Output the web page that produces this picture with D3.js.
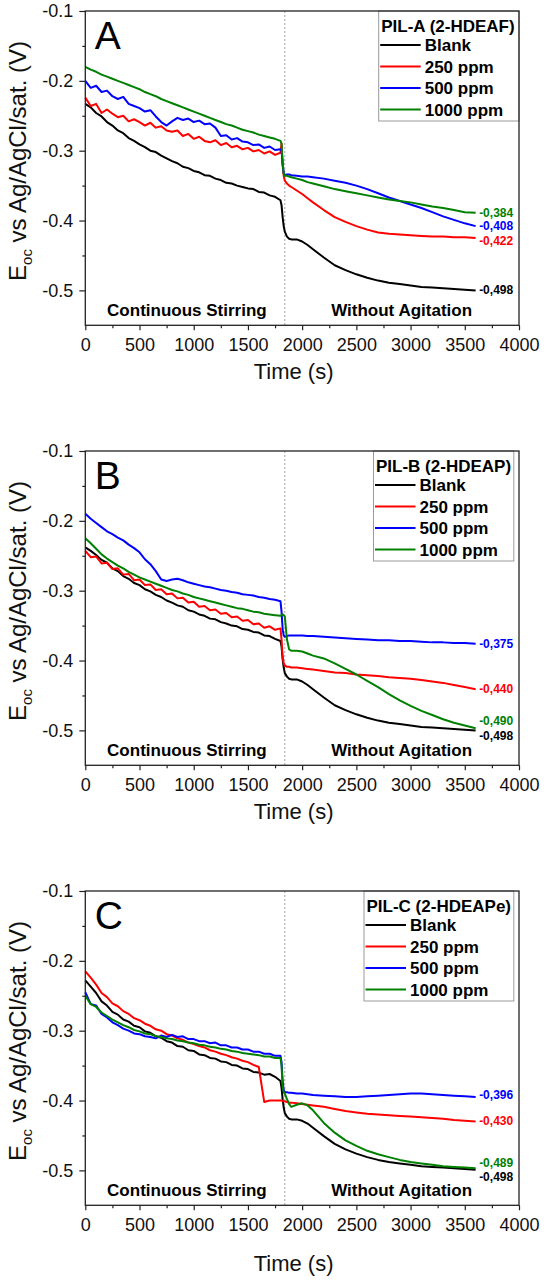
<!DOCTYPE html>
<html>
<head>
<meta charset="utf-8">
<script src="https://cdn.jsdelivr.net/npm/d3@7"></script>
<style>
  body { margin: 0; background: #fff; }
  svg { display: block; font-family: Arial, "Liberation Sans", sans-serif; }
</style>
</head>
<body>
<svg width="544" height="1280"></svg>
<script>
// sampling times (s): stirring phase every 50 s, then the jump, then the quiet phase
const time = [
  0, 50, 100, 150, 200, 250, 300, 350, 400, 450, 500, 550, 600, 650, 700, 750, 800, 850, 900, 950,
  1000, 1050, 1100, 1150, 1200, 1250, 1300, 1350, 1400, 1450, 1500, 1550, 1600, 1650, 1700, 1750, 1800,
  1810, 1820, 1830, 1840, 1860, 1880, 1900, 1950, 2000, 2050, 2100,
  2200, 2300, 2400, 2500, 2600, 2700, 2800, 2900, 3000, 3100, 3200, 3300, 3400, 3500, 3600
];

// PIL-A (2-HDEAF)
const blankA = [
  -0.233, -0.238, -0.246, -0.251, -0.259, -0.264, -0.271, -0.275, -0.282, -0.286, -0.291, -0.295, -0.300, -0.302, -0.307, -0.311, -0.315, -0.318, -0.323, -0.325,
  -0.329, -0.331, -0.335, -0.336, -0.340, -0.342, -0.346, -0.347, -0.350, -0.352, -0.354, -0.355, -0.359, -0.360, -0.364, -0.366, -0.371,
  -0.378, -0.395, -0.408, -0.416, -0.423, -0.426, -0.427, -0.427, -0.430, -0.435, -0.441,
  -0.453, -0.464, -0.471, -0.477, -0.482, -0.486, -0.489, -0.491, -0.493, -0.495, -0.496, -0.497, -0.498, -0.499, -0.500
];
const ppm250A = [
  -0.224, -0.236, -0.233, -0.246, -0.241, -0.247, -0.252, -0.250, -0.258, -0.255, -0.259, -0.264, -0.260, -0.267, -0.265, -0.271, -0.273, -0.271, -0.279, -0.276,
  -0.283, -0.280, -0.286, -0.288, -0.285, -0.292, -0.289, -0.295, -0.293, -0.298, -0.296, -0.301, -0.299, -0.304, -0.301, -0.306, -0.303,
  -0.290, -0.320, -0.336, -0.343, -0.347, -0.350, -0.352, -0.357, -0.362, -0.368, -0.374,
  -0.385, -0.395, -0.402, -0.408, -0.413, -0.417, -0.419, -0.420, -0.421, -0.422, -0.423, -0.423, -0.424, -0.424, -0.425
];
const ppm500A = [
  -0.200, -0.210, -0.207, -0.216, -0.214, -0.222, -0.226, -0.223, -0.233, -0.236, -0.239, -0.244, -0.242, -0.251, -0.259, -0.264, -0.258, -0.253, -0.256, -0.254,
  -0.259, -0.257, -0.262, -0.261, -0.267, -0.279, -0.278, -0.284, -0.282, -0.287, -0.288, -0.292, -0.291, -0.296, -0.294, -0.299, -0.298,
  -0.300, -0.320, -0.332, -0.335, -0.334, -0.334, -0.335, -0.336, -0.337, -0.337, -0.338,
  -0.340, -0.343, -0.346, -0.350, -0.355, -0.361, -0.367, -0.372, -0.377, -0.382, -0.388, -0.394, -0.399, -0.404, -0.408
];
const ppm1000A = [
  -0.180, -0.184, -0.187, -0.191, -0.194, -0.197, -0.200, -0.203, -0.206, -0.209, -0.212, -0.216, -0.219, -0.222, -0.226, -0.229, -0.232, -0.235, -0.238, -0.241,
  -0.244, -0.247, -0.250, -0.253, -0.256, -0.259, -0.262, -0.264, -0.267, -0.270, -0.272, -0.274, -0.277, -0.279, -0.281, -0.283, -0.286,
  -0.290, -0.318, -0.333, -0.336, -0.336, -0.337, -0.338, -0.340, -0.342, -0.345, -0.347,
  -0.351, -0.355, -0.358, -0.361, -0.364, -0.367, -0.370, -0.372, -0.374, -0.377, -0.380, -0.382, -0.385, -0.388, -0.389
];

// PIL-B (2-HDEAP)
const blankB = [
  -0.238, -0.243, -0.249, -0.256, -0.260, -0.268, -0.272, -0.279, -0.283, -0.289, -0.292, -0.298, -0.301, -0.306, -0.309, -0.314, -0.317, -0.321, -0.323, -0.328,
  -0.330, -0.334, -0.336, -0.340, -0.341, -0.345, -0.347, -0.350, -0.351, -0.355, -0.356, -0.359, -0.360, -0.364, -0.365, -0.369, -0.372,
  -0.380, -0.398, -0.410, -0.418, -0.423, -0.426, -0.427, -0.427, -0.430, -0.435, -0.441,
  -0.453, -0.464, -0.471, -0.477, -0.482, -0.486, -0.489, -0.491, -0.493, -0.495, -0.496, -0.497, -0.498, -0.499, -0.500
];
const ppm250B = [
  -0.243, -0.252, -0.251, -0.261, -0.260, -0.269, -0.268, -0.277, -0.276, -0.285, -0.284, -0.292, -0.291, -0.299, -0.298, -0.305, -0.304, -0.311, -0.310, -0.317,
  -0.316, -0.323, -0.322, -0.328, -0.327, -0.333, -0.332, -0.338, -0.337, -0.343, -0.342, -0.348, -0.347, -0.353, -0.351, -0.356, -0.354,
  -0.370, -0.395, -0.404, -0.407, -0.409, -0.409, -0.410, -0.410, -0.411, -0.412, -0.413,
  -0.415, -0.417, -0.418, -0.420, -0.421, -0.422, -0.424, -0.425, -0.426, -0.428, -0.430, -0.432, -0.435, -0.438, -0.441
];
const ppm500B = [
  -0.190, -0.197, -0.203, -0.209, -0.215, -0.219, -0.224, -0.228, -0.234, -0.239, -0.245, -0.255, -0.262, -0.272, -0.284, -0.286, -0.284, -0.283, -0.285, -0.288,
  -0.290, -0.292, -0.294, -0.295, -0.297, -0.299, -0.300, -0.302, -0.303, -0.305, -0.306, -0.307, -0.309, -0.310, -0.312, -0.313, -0.315,
  -0.330, -0.355, -0.364, -0.366, -0.365, -0.364, -0.364, -0.364, -0.364, -0.365, -0.365,
  -0.366, -0.367, -0.368, -0.369, -0.370, -0.371, -0.371, -0.372, -0.372, -0.373, -0.374, -0.374, -0.375, -0.375, -0.376
];
const ppm1000B = [
  -0.225, -0.232, -0.240, -0.248, -0.254, -0.259, -0.264, -0.268, -0.273, -0.277, -0.281, -0.284, -0.287, -0.290, -0.293, -0.296, -0.299, -0.301, -0.304, -0.306,
  -0.309, -0.311, -0.313, -0.315, -0.317, -0.319, -0.321, -0.323, -0.325, -0.326, -0.328, -0.330, -0.331, -0.333, -0.334, -0.335, -0.336,
  -0.335, -0.334, -0.335, -0.337, -0.370, -0.384, -0.386, -0.386, -0.387, -0.390, -0.393,
  -0.397, -0.404, -0.412, -0.420, -0.429, -0.438, -0.448, -0.457, -0.465, -0.472, -0.478, -0.484, -0.489, -0.493, -0.497
];

// PIL-C (2-HDEAPe)
const blankC = [
  -0.228, -0.237, -0.246, -0.258, -0.264, -0.273, -0.277, -0.284, -0.287, -0.293, -0.295, -0.301, -0.303, -0.308, -0.310, -0.315, -0.317, -0.322, -0.323, -0.328,
  -0.329, -0.334, -0.335, -0.339, -0.340, -0.344, -0.345, -0.349, -0.350, -0.354, -0.355, -0.359, -0.360, -0.363, -0.362, -0.366, -0.372,
  -0.382, -0.398, -0.410, -0.418, -0.423, -0.426, -0.427, -0.427, -0.429, -0.433, -0.439,
  -0.451, -0.462, -0.470, -0.476, -0.481, -0.485, -0.488, -0.490, -0.492, -0.494, -0.495, -0.496, -0.497, -0.498, -0.499
];
const ppm250C = [
  -0.215, -0.224, -0.234, -0.246, -0.252, -0.261, -0.265, -0.272, -0.276, -0.282, -0.285, -0.290, -0.293, -0.298, -0.300, -0.305, -0.307, -0.311, -0.313, -0.317,
  -0.319, -0.322, -0.324, -0.328, -0.330, -0.333, -0.335, -0.338, -0.340, -0.343, -0.345, -0.349, -0.352, -0.402, -0.400, -0.400, -0.400,
  -0.400, -0.401, -0.401, -0.401, -0.402, -0.403, -0.403, -0.404, -0.405, -0.406, -0.407,
  -0.409, -0.412, -0.415, -0.417, -0.419, -0.420, -0.421, -0.422, -0.423, -0.424, -0.425, -0.426, -0.428, -0.429, -0.430
];
const ppm500C = [
  -0.245, -0.262, -0.264, -0.276, -0.281, -0.288, -0.292, -0.297, -0.300, -0.304, -0.305, -0.308, -0.309, -0.311, -0.307, -0.309, -0.306, -0.309, -0.308, -0.312,
  -0.312, -0.315, -0.315, -0.318, -0.317, -0.321, -0.321, -0.324, -0.324, -0.327, -0.327, -0.330, -0.330, -0.333, -0.333, -0.336, -0.336,
  -0.345, -0.372, -0.385, -0.388, -0.388, -0.389, -0.389, -0.390, -0.390, -0.391, -0.392,
  -0.393, -0.394, -0.395, -0.395, -0.394, -0.393, -0.392, -0.391, -0.390, -0.390, -0.391, -0.392, -0.393, -0.394, -0.395
];
const ppm1000C = [
  -0.250, -0.262, -0.266, -0.274, -0.279, -0.284, -0.288, -0.292, -0.295, -0.299, -0.301, -0.304, -0.305, -0.308, -0.309, -0.311, -0.312, -0.314, -0.315, -0.317,
  -0.318, -0.320, -0.321, -0.323, -0.324, -0.326, -0.327, -0.329, -0.330, -0.332, -0.333, -0.334, -0.335, -0.337, -0.337, -0.339, -0.339,
  -0.350, -0.380, -0.388, -0.390, -0.398, -0.405, -0.409, -0.406, -0.404, -0.407, -0.414,
  -0.432, -0.446, -0.457, -0.465, -0.472, -0.477, -0.481, -0.485, -0.488, -0.490, -0.492, -0.494, -0.495, -0.496, -0.497
];

// final values written at the end of each curve (Blank, 250, 500, 1000 ppm)
const endValuesA = [-0.498, -0.422, -0.408, -0.384];
const endValuesB = [-0.498, -0.440, -0.375, -0.490];
const endValuesC = [-0.498, -0.430, -0.396, -0.489];

const seriesNames = ["Blank", "250 ppm", "500 ppm", "1000 ppm"];
const panelLetters = ["A", "B", "C"];
const legendTitles = ["PIL-A (2-HDEAF)", "PIL-B (2-HDEAP)", "PIL-C (2-HDEAPe)"];
const regionLabels = ["Continuous Stirring", "Without Agitation"];
const xTicks = [0, 500, 1000, 1500, 2000, 2500, 3000, 3500, 4000];
const xMinorTicks = [250, 750, 1250, 1750, 2250, 2750, 3250, 3750];
const yTicks = [-0.1, -0.2, -0.3, -0.4, -0.5];
const yMinorTicks = [-0.15, -0.25, -0.35, -0.45];
const phaseChangeTime = 1840;

const panels = [
  {series: [blankA, ppm250A, ppm500A, ppm1000A], endValues: endValuesA},
  {series: [blankB, ppm250B, ppm500B, ppm1000B], endValues: endValuesB},
  {series: [blankC, ppm250C, ppm500C, ppm1000C], endValues: endValuesC}
];

// layout
const colors = ["#000000", "#ff0000", "#0000ff", "#008000"];
const plotLeft = 85.3, plotWidth = 433.7, plotHeight = 314.3;
const panelTops = [11, 451, 891];
const xTitleGaps = [53.5, 53.5, 66];
const legendBoxes = [{left: 378.7, width: 140.3}, {left: 373.5, width: 140.3}, {left: 364, width: 149.8}];
const endLabelShifts = [[0, 3, 0, 0], [6, 0, 0, -7], [7, 0, -2, -5]];
const legendRows = [34, 55.5, 77, 98.5];

const svg = d3.select("svg");

const x = d3.scaleLinear().domain([0, 4000]).range([0, plotWidth]);
const y = d3.scaleLinear().domain([-0.55, -0.1]).range([plotHeight, 0]);

const curve = d3.line()
    .x((d, i) => x(time[i]))
    .y(d => y(d));

const formatEnd = v => v.toFixed(3).replace(".", ",");

const styleTicks = (g, size) => {
    g.select(".domain").remove();
    g.selectAll("line").attr("stroke", "#222").attr("stroke-width", 1.2);
    g.selectAll("text").attr("font-size", size).attr("fill", "#111").attr("font-family", null);
};

const drawPanel = (panel, p) => {
    const top = panelTops[p];
    const g = svg.append("g").attr("transform", `translate(${plotLeft},${top})`);

    // phase change marker
    g.append("line")
        .attr("x1", x(phaseChangeTime)).attr("x2", x(phaseChangeTime))
        .attr("y1", 0).attr("y2", plotHeight)
        .attr("stroke", "#8a8a8a")
        .attr("stroke-width", 0.8)
        .attr("stroke-dasharray", "2,2");

    g.selectAll("path.series")
        .data(panel.series)
        .enter().append("path")
        .attr("class", "series")
        .attr("d", d => curve(d))
        .attr("fill", "none")
        .attr("stroke", (d, i) => colors[i])
        .attr("stroke-width", 2)
        .attr("stroke-linejoin", "round");

    // values at the end of the curves
    g.selectAll("text.endval")
        .data(panel.endValues)
        .enter().append("text")
        .attr("class", "endval")
        .attr("x", x(time[time.length - 1]) + 3.5)
        .attr("y", (d, i) => y(panel.series[i][panel.series[i].length - 1]) + endLabelShifts[p][i])
        .attr("dominant-baseline", "central")
        .attr("font-size", 12)
        .attr("font-weight", "bold")
        .attr("fill", (d, i) => colors[i])
        .text(d => formatEnd(d));

    // legend
    const box = legendBoxes[p];
    const legend = g.append("g").attr("transform", `translate(${box.left - plotLeft},0)`);
    legend.append("rect")
        .attr("width", box.width).attr("height", 110)
        .attr("fill", "#fff")
        .attr("stroke", "#9a9a9a")
        .attr("stroke-width", 1);
    legend.append("text")
        .attr("x", 2.5).attr("y", 20.5)
        .attr("font-size", 17).attr("font-weight", "bold")
        .text(legendTitles[p]);
    const rows = legend.selectAll("g.row")
        .data(seriesNames)
        .enter().append("g")
        .attr("class", "row")
        .attr("transform", (d, i) => `translate(0,${legendRows[i]})`);
    rows.append("line")
        .attr("x1", 1.5).attr("x2", 42)
        .attr("stroke", (d, i) => colors[i])
        .attr("stroke-width", 2);
    rows.append("text")
        .attr("x", 46).attr("y", 6)
        .attr("font-size", 17).attr("font-weight", "bold")
        .text(d => d);

    // frame
    g.append("rect")
        .attr("width", plotWidth).attr("height", plotHeight)
        .attr("fill", "none")
        .attr("stroke", "#222")
        .attr("stroke-width", 1.3);

    // axes
    g.append("g")
        .attr("transform", `translate(0,${plotHeight})`)
        .call(d3.axisBottom(x).tickValues(xTicks).tickSize(5).tickPadding(8).tickFormat(d => d))
        .call(a => styleTicks(a, 18));
    g.append("g")
        .attr("transform", `translate(0,${plotHeight})`)
        .call(d3.axisBottom(x).tickValues(xMinorTicks).tickSize(3).tickFormat(""))
        .call(a => styleTicks(a, 18));
    g.append("g")
        .call(d3.axisLeft(y).tickValues(yTicks).tickSize(6).tickPadding(6).tickFormat(d => d.toFixed(1)))
        .call(a => styleTicks(a, 18));
    g.append("g")
        .call(d3.axisLeft(y).tickValues(yMinorTicks).tickSize(3).tickFormat(""))
        .call(a => styleTicks(a, 18));

    // panel letter and region labels
    g.append("text")
        .attr("x", 9.5).attr("y", 38)
        .attr("font-size", 39)
        .text(panelLetters[p]);
    g.selectAll("text.region")
        .data(regionLabels)
        .enter().append("text")
        .attr("class", "region")
        .attr("x", (d, i) => i === 0 ? 21.8 : 245.9)
        .attr("y", plotHeight - 9)
        .attr("font-size", 17)
        .attr("font-weight", "bold")
        .text(d => d);

    // axis titles
    g.append("text")
        .attr("x", 208.3)
        .attr("y", plotHeight + xTitleGaps[p])
        .attr("text-anchor", "middle")
        .attr("font-size", 22)
        .attr("fill", "#111")
        .text("Time (s)");

    const yTitle = svg.append("text")
        .attr("transform", `translate(26,${top + 150}) rotate(-90)`)
        .attr("text-anchor", "middle")
        .attr("font-size", 24)
        .attr("fill", "#111");
    yTitle.append("tspan").text("E");
    yTitle.append("tspan").attr("font-size", 15).attr("dy", 6).text("oc");
    yTitle.append("tspan").attr("dy", -6).text(" vs Ag/AgCl/sat. (V)");
};

panels.forEach((panel, p) => drawPanel(panel, p));
</script>
</body>
</html>
